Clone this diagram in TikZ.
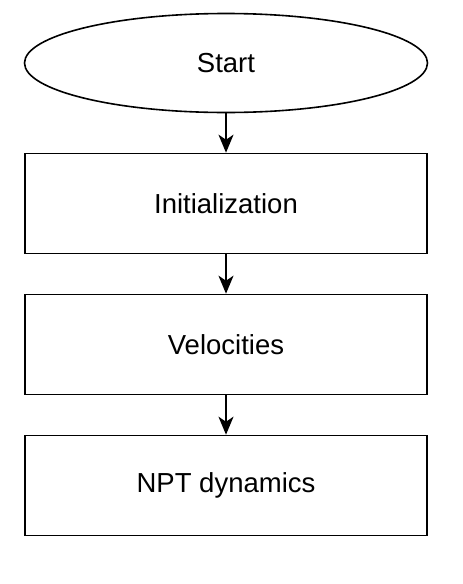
\documentclass[tikz,border=0pt]{standalone}
\usepackage{fontspec}
\setmainfont{Liberation Sans}
\usetikzlibrary{positioning,shapes.geometric,arrows.meta}

\begin{document}
\begin{tikzpicture}[x=1pt,y=1pt,
  stepbox/.style={draw,line width=1.6pt,minimum width=402pt,minimum height=100pt,font=\fontsize{27.5}{32}\selectfont},
  startbox/.style={ellipse,draw,line width=1.6pt,minimum width=403pt,minimum height=99pt,font=\fontsize{27.5}{32}\selectfont},
  flow/.style={-{Stealth[length=18pt,width=15pt,inset=5pt]},line width=1.6pt}]
 \useasboundingbox (0,0) rectangle (463,-584); %画像の枠
 \node[startbox] (start) at (226,-63) {Start}; %開始
 \node[stepbox,below=39.4pt of start] (init) {Initialization};
 \node[stepbox,below=39.4pt of init] (vel) {Velocities};
 \node[stepbox,below=39.4pt of vel] (npt) {NPT dynamics};
 \draw[flow] (start)--(init);
 \draw[flow] (init)--(vel);
 \draw[flow] (vel)--(npt);
\end{tikzpicture}
\end{document}
